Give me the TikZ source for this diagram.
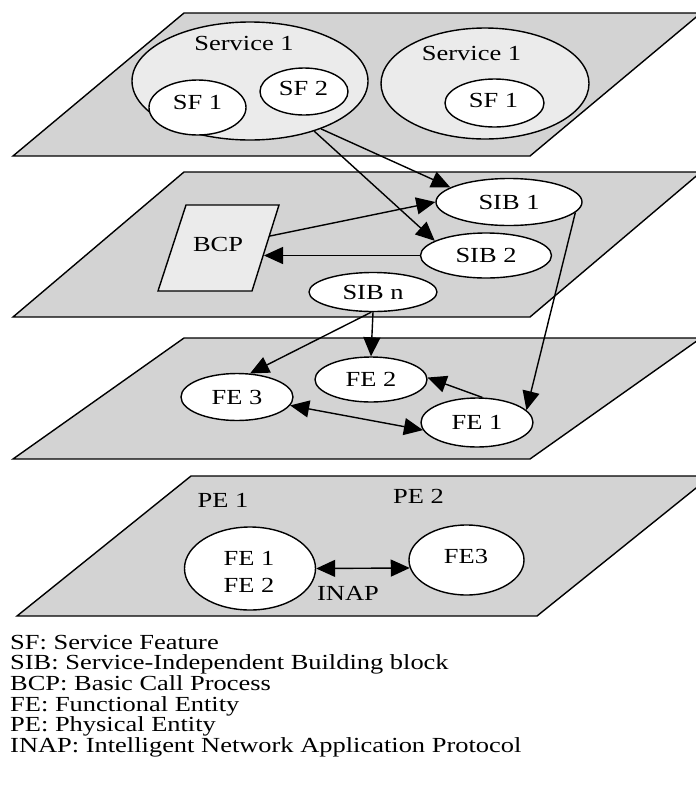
\documentclass[tikz,border=0pt]{standalone}
\usepackage{fontspec}
\setmainfont{Liberation Serif}[FakeStretch=1.23]
\usetikzlibrary{shapes.geometric,arrows.meta}
\definecolor{layergray}{RGB}{211,211,211}
\definecolor{svcgray}{RGB}{235,235,235}
\begin{document}
\begin{tikzpicture}[x=1pt,y=-1pt,
  every node/.style={font=\fontsize{21.5}{27}\selectfont, inner sep=0pt},
  layer/.style={draw, fill=layergray, line width=1.4pt, line join=miter},
  ell/.style={draw, ellipse, fill=white, line width=1.4pt, inner sep=0pt},
  svc/.style={ell, fill=svcgray},
  tip/.tip={Triangle[length=19pt,width=17pt]},
  arr/.style={line width=1.4pt, -tip},
  darr/.style={line width=1.4pt, tip-tip},
  legend/.style={anchor=base west}]
\useasboundingbox (0,0) rectangle (696,807);
% layers
\draw[layer] (13,156) -- (530,156) -- (701,13) -- (184,13) -- cycle;
\draw[layer] (13,317) -- (530,317) -- (701,172) -- (184,172) -- cycle;
\draw[layer] (13,459) -- (530,459) -- (701,338) -- (184,338) -- cycle;
\draw[layer] (17,616) -- (537,616) -- (711,476) -- (191,476) -- cycle;
% layer 1
\node[svc, minimum width=236pt, minimum height=118pt] (svcL) at (250,81) {};
\node (svcLtxt) at (244,43) {Service 1};
\node[ell, minimum width=97pt, minimum height=55pt] (sf1L) at (197.5,107.5) {};
\node (sf1Ltxt) at (197.5,102) {SF 1};
\node[ell, minimum width=88pt, minimum height=47pt] (sf2) at (304,91.5) {};
\node (sf2txt) at (303.5,88.5) {SF 2};
\node[svc, minimum width=208pt, minimum height=111pt] (svcR) at (485,83.5) {};
\node (svcRtxt) at (471.5,53.5) {Service 1};
\node[ell, minimum width=99pt, minimum height=48pt] (sf1R) at (494.5,103) {};
\node (sf1Rtxt) at (493.5,100) {SF 1};
% layer 2
\node[ell, minimum width=146pt, minimum height=47pt] (sib1) at (509,202) {SIB 1};
\node[ell, minimum width=131pt, minimum height=45pt] (sib2) at (486,255.5) {SIB 2};
\node[ell, minimum width=128pt, minimum height=39pt] (sibn) at (373,292) {SIB n};
\draw[fill=svcgray, line width=1.4pt] (186,205) -- (279,205) -- (252,291) -- (158,291) -- cycle;
\node (bcp) at (218,244.5) {BCP};
\coordinate (bcpA) at (270,236);
\coordinate (bcpB) at (264,255.5);
% layer 3
\node[ell, minimum width=112pt, minimum height=47pt] (fe3) at (237,397) {FE 3};
\node[ell, minimum width=112pt, minimum height=45pt] (fe2) at (371,379.5) {FE 2};
\node[ell, minimum width=112pt, minimum height=49pt] (fe1) at (477,422.5) {FE 1};
% layer 4
\node[ell, minimum width=131pt, minimum height=83pt] (peL) at (250,568.5) {};
\node[align=center] (peLtxt) at (249,571.5) {FE 1\\FE 2};
\node[ell, minimum width=115pt, minimum height=70pt] (peR) at (466.5,560) {};
\node (peRtxt) at (466,556.5) {FE3};
\node (pe1) at (223,500) {PE 1};
\node (pe2) at (418.5,496) {PE 2};
\node (inap) at (348,593.5) {INAP};
% connectors
\draw[arr] (svcL.-34) -- (sib1.166);
\draw[arr] (svcL.-38) -- (sib2.164);
\draw[arr] (bcpA) -- (sib1.west);
\draw[arr] (sib2.west) -- (bcpB);
\draw[arr] (sibn.south) -- (fe2.north);
\draw[arr] (sibn.-95) -- (fe3.61);
\draw[arr] (sib1.-9) -- (fe1.14);
\draw[arr] (fe1.78) -- (fe2.2);
\draw[darr] (fe3.-9) -- (fe1.188);
\draw[darr] (peL.east) -- (peR.188);
% legend
\node[legend] (l1) at (10,649) {SF: Service Feature};
\node[legend] (l2) at (10,669.7) {SIB: Service-Independent Building block};
\node[legend] (l3) at (10,690.4) {BCP: Basic Call Process};
\node[legend] (l4) at (10,711) {FE: Functional Entity};
\node[legend] (l5) at (10,731.8) {PE: Physical Entity};
\node[legend] (l6) at (10,752.5) {INAP: Intelligent Network Application Protocol};
\end{tikzpicture}
\end{document}
